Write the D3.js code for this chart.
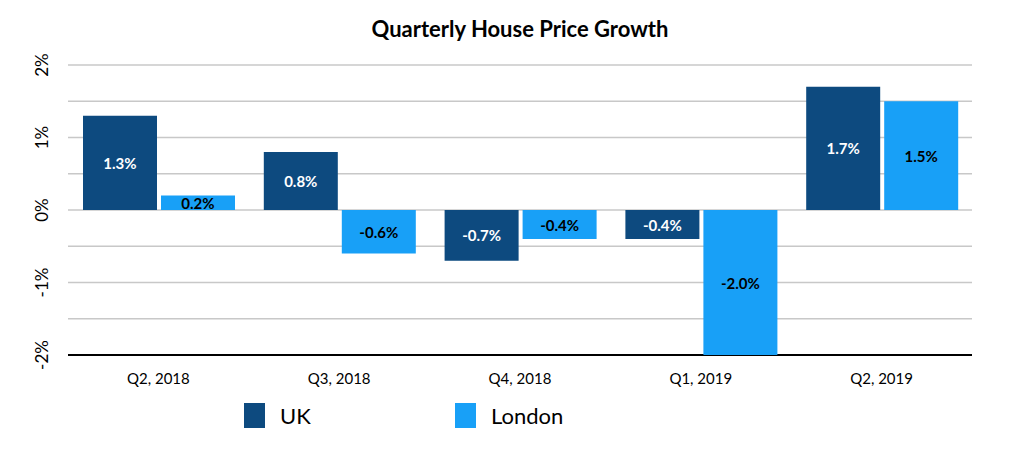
<!DOCTYPE html><html><head><meta charset="utf-8">
<script src="https://cdn.jsdelivr.net/npm/d3@7"></script>
<style>body{margin:0;background:#fff}text{font-family:Lato,"Open Sans",sans-serif}</style></head><body>
<svg id="c" width="1024" height="454"></svg>
<script>
const categories=["Q2, 2018","Q3, 2018","Q4, 2018","Q1, 2019","Q2, 2019"];
const series=["UK","London"];
const uk=[1.3,0.8,-0.7,-0.4,1.7];
const london=[0.2,-0.6,-0.4,-2.0,1.5];
const yTicks=[-2,-1,0,1,2];
const colors=["#0d4a7f","#18a0f7"];
const svg=d3.select("#c");
const L=68,R=972,T=65,B=355;
const x=d3.scaleBand().domain(categories).range([L,R]).paddingInner(0).paddingOuter(0);
const y=d3.scaleLinear().domain([-2,2]).range([B,T]);
svg.append("text").attr("x",520).attr("y",37).attr("text-anchor","middle").attr("font-size",22).attr("font-weight","bold").text("Quarterly House Price Growth");
d3.range(-2,2.01,0.5).forEach(v=>{svg.append("line").attr("x1",L).attr("x2",R).attr("y1",y(v)).attr("y2",y(v)).attr("stroke",v===-2?"#000":"#c8c8c8").attr("stroke-width",v===-2?2:1.5);});
yTicks.forEach(v=>{svg.append("text").attr("transform",`translate(48,${y(v)}) rotate(-90)`).attr("text-anchor","middle").attr("font-size",17).text(v+"%");});
const data=[uk,london];
const bw=74,gap=4,off=15;
categories.forEach((c,i)=>{
 data.forEach((s,j)=>{
  const v=s[i],x0=x(c)+off+j*(bw+gap);
  const y0=Math.min(y(v),y(0)),h=Math.abs(y(v)-y(0));
  svg.append("rect").attr("x",x0).attr("y",y0).attr("width",bw).attr("height",h).attr("fill",colors[j]);
  svg.append("text").attr("x",x0+bw/2).attr("y",y0+h/2+6).attr("text-anchor","middle").attr("font-size",15).attr("font-weight","bold").attr("fill",j===0?"#fff":"#000").text(v.toFixed(1)+"%");
 });
 svg.append("text").attr("x",x(c)+x.bandwidth()/2).attr("y",384).attr("text-anchor","middle").attr("font-size",15).attr("font-family","Liberation Serif,serif").text(c);
});
const lx=[244,455];
series.forEach((s,j)=>{
 svg.append("rect").attr("x",lx[j]).attr("y",403).attr("width",21).attr("height",25).attr("fill",colors[j]);
 svg.append("text").attr("x",lx[j]+36).attr("y",424).attr("font-size",22).text(s);
});
</script></body></html>
